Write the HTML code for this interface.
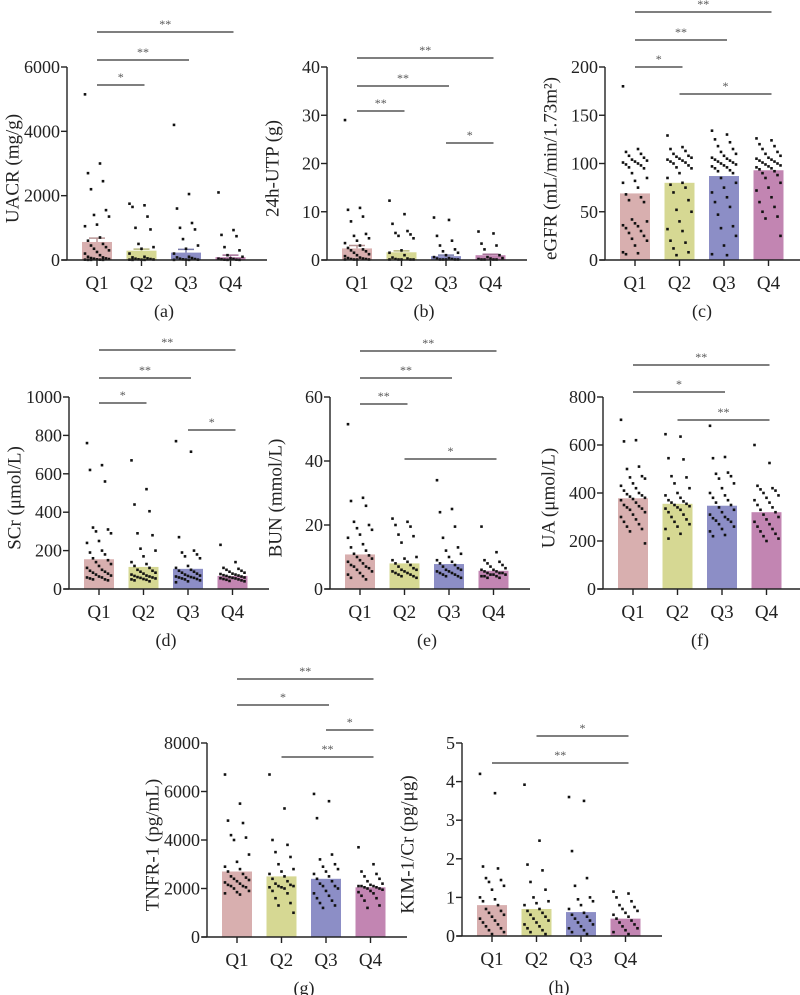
<!DOCTYPE html>
<html><head><meta charset="utf-8"><style>
html,body{margin:0;padding:0;background:#fff;}
svg{display:block;font-family:"Liberation Serif",serif;}
</style></head><body>
<svg id="fig" width="800" height="995" viewBox="0 0 800 995"></svg>
<script>
// ---- data ----
const categories = ["Q1","Q2","Q3","Q4"];
const panelLetters = ["a","b","c","d","e","f","g","h"];
const yTitles = ["UACR (mg/g)","24h-UTP (g)","eGFR (mL/min/1.73m²)","SCr (μmol/L)","BUN (mmol/L)","UA (μmol/L)","TNFR-1 (pg/mL)","KIM-1/Cr (pg/μg)"];
const yMax = [6000,40,200,1000,60,800,8000,5];
const yTicks = [[0,2000,4000,6000],[0,10,20,30,40],[0,50,100,150,200],[0,200,400,600,800,1000],[0,20,40,60],[0,200,400,600,800],[0,2000,4000,6000,8000],[0,1,2,3,4,5]];
const means = [[560,290,230,90],[2.4,1.6,0.8,1.0],[69,80,87,93],[155,115,105,68],[10.8,8,7.8,5.7],[378,355,347,320],[2700,2500,2400,2050],[0.8,0.7,0.62,0.45]];
const sems = [[120,50,100,60],[0.6,0.3,0.2,0.2],[0,0,0,0],[0,0,0,0],[0,0,0,0],[0,0,0,0],[0,0,0,0],[0,0,0,0]];
const pointsA = [[5150,3000,2700,2450,2200,1550,1400,1350,1100,1050,700,600,500,450,400,350,300,250,200,150,100,80,60,50,40,30,20,10,10,5,5,5],[1750,1700,1650,1350,1000,950,500,400,350,200,100,80,50,40,30,20,15,10,10,5,5],[4200,2050,1600,1150,1000,950,650,450,350,200,100,80,60,40,30,20,10,10,5,5],[2100,930,780,740,400,300,150,100,50,40,30,20,10,10,5,5]];
const pointsB = [[29,10.8,10.4,9,8,5.4,5,4.5,4,3.5,3,2.5,2.2,2,1.8,1.5,1.2,1,0.8,0.5,0.4,0.3,0.2,0.2,0.1,0.1,0.1,0.1],[12.3,9.5,7.5,6,5.6,5.3,5,4.5,2,1.5,1,0.5,0.3,0.2,0.1,0.1,0.1,0.1,0.1],[8.8,8.3,5,4,3,2.2,1.8,1.5,1,0.6,0.4,0.3,0.2,0.1,0.1,0.1,0.1,0.1],[5.9,5.5,3.4,3,2.2,1,0.6,0.4,0.3,0.2,0.1,0.1,0.1,0.1]];
const pointsC = [[180,115,112,110,108,106,104,103,102,101,100,99,98,96,95,90,85,82,80,75,68,65,62,60,42,40,38,36,35,33,30,28,25,22,20,15,8,7,6],[129,117,115,113,110,108,107,106,105,104,103,102,101,100,98,96,95,90,85,80,78,75,70,62,52,50,40,32,30,20,18,12,8,5],[134,130,125,122,118,115,112,110,108,106,105,104,103,102,101,100,99,98,97,96,95,93,92,90,85,80,75,70,65,60,55,47,35,33,25,15,6,5],[126,124,120,118,115,112,110,108,106,105,104,103,102,101,100,99,98,97,96,95,94,92,90,88,85,80,75,72,65,60,55,50,45,43,25]];
const pointsD = [[760,645,620,560,320,310,300,290,250,240,200,190,180,160,150,140,130,120,110,100,95,90,85,80,75,70,65,60,60,55,50,50,45],[670,520,440,405,290,280,210,200,170,140,130,120,110,100,95,90,85,80,75,70,68,65,62,60,58,55,52,50,48,45,40],[770,715,270,200,190,180,170,160,120,110,100,95,90,85,80,75,70,68,65,62,60,58,55,52,50,45,40,35],[230,140,110,105,100,95,90,85,80,78,75,72,70,68,65,62,60,58,56,55,52,50,48,45,42,40]];
const pointsE = [[51.5,28.5,27.5,26,21,20,19,18.5,17,16,14,13,12,11,10.5,10,9.5,9,8.5,8,7.5,7,7,6.5,6,5.5,5,4.5,4,3.5,3],[22,21,20,19.5,17,16.5,14.5,10,9.5,9,8.5,8,7.5,7,6.5,6,6,5.5,5.5,5,5,4.5,4.5,4,4,3.5],[34,25,24,19.5,16,13,12,11,10,9,8.5,8,7.5,7,6.5,6,6,5.5,5.5,5,5,4.5,4.5,4,4,3.5],[19.5,11.5,9,8.5,8,7.5,7,6.5,6,6,5.5,5.5,5,5,5,4.5,4.5,4.5,4,4,4,3.5,3.5]];
const pointsF = [[705,620,615,510,500,470,465,460,440,430,420,410,400,395,390,385,380,375,370,360,350,345,340,335,330,320,310,300,290,280,270,260,250,240,190],[645,635,545,540,470,465,440,420,400,390,380,370,365,360,355,350,345,340,335,330,320,310,300,290,280,270,260,250,230,210],[680,550,545,485,480,470,460,440,420,400,390,380,370,360,350,340,330,320,310,300,295,290,285,280,270,260,250,240,225,220],[600,525,430,420,415,410,400,390,380,370,360,350,340,330,320,310,300,290,280,270,260,250,240,230,220,210,200]];
const pointsG = [[6700,5500,4800,4700,4200,4100,4000,3400,3100,2900,2800,2700,2600,2500,2450,2400,2350,2300,2250,2200,2150,2100,2100,2050,2000,1900,1850,1800,1750],[6700,5300,4000,3800,3500,3300,3000,2800,2700,2600,2500,2400,2300,2200,2150,2100,2100,2050,2050,2000,1900,1800,1600,1400,1300,1000],[5900,5600,4900,3400,3200,3000,2900,2800,2700,2600,2500,2400,2300,2200,2100,2100,2000,1900,1800,1700,1600,1500,1400,1300,1200],[3700,3000,2700,2600,2500,2400,2300,2200,2150,2100,2100,2100,2050,2050,2000,2000,1950,1900,1850,1800,1700,1600,1500,1300,1200]];
const pointsH = [[4.2,3.7,1.8,1.75,1.5,1.45,1.4,1.3,1.2,1.0,0.95,0.9,0.8,0.7,0.65,0.6,0.55,0.5,0.45,0.4,0.35,0.3,0.25,0.2,0.15,0.1,0.05],[3.92,2.47,1.85,1.7,1.4,1.2,1.0,0.9,0.85,0.8,0.7,0.65,0.6,0.55,0.5,0.45,0.4,0.35,0.3,0.25,0.2,0.15,0.1,0.05],[3.6,3.5,2.2,1.5,1.3,1.0,0.95,0.9,0.8,0.7,0.6,0.55,0.5,0.45,0.4,0.35,0.3,0.25,0.2,0.15,0.1,0.05],[1.15,1.1,1.0,0.9,0.8,0.75,0.7,0.65,0.6,0.55,0.5,0.45,0.4,0.35,0.3,0.25,0.2,0.15,0.1,0.05]];
const allPoints = [pointsA,pointsB,pointsC,pointsD,pointsE,pointsF,pointsG,pointsH];
// significance: [from group, to group, label]
const sigPairs = [
 [[0,3,"**"],[0,2,"**"],[0,1,"*"]],
 [[0,3,"**"],[0,2,"**"],[0,1,"**"],[2,3,"*"]],
 [[0,3,"**"],[0,2,"**"],[0,1,"*"],[1,3,"*"]],
 [[0,3,"**"],[0,2,"**"],[0,1,"*"],[2,3,"*"]],
 [[0,3,"**"],[0,2,"**"],[0,1,"**"],[1,3,"*"]],
 [[0,3,"**"],[0,2,"*"],[1,3,"**"]],
 [[0,3,"**"],[0,2,"*"],[2,3,"*"],[1,3,"**"]],
 [[1,3,"*"],[0,3,"**"]]
];
// ---- layout (not data) ----
const layout = [
 {ax:67,top:67,bot:260,sig:[32,60,85]},
 {ax:327,top:67,bot:260,sig:[58,86,111,143]},
 {ax:605,top:67,bot:260,sig:[12,40,67,94]},
 {ax:69,top:397,bot:589,sig:[350,378,403,430]},
 {ax:330,top:397,bot:589,sig:[351,378,404,459]},
 {ax:603,top:397,bot:589,sig:[365,392,420]},
 {ax:207,top:743,bot:937,sig:[679,705,730,757]},
 {ax:462,top:743,bot:936,sig:[736,763]}
];
const colors = ["#d8afaf","#d6d893","#8c8ec6","#c285b2"];
const NS="http://www.w3.org/2000/svg";
const svg=document.getElementById("fig");
function mk(tag,attrs,parent,text){const e=document.createElementNS(NS,tag);for(const k in attrs)e.setAttribute(k,attrs[k]);if(text!==undefined)e.textContent=text;(parent||svg).appendChild(e);return e;}

layout.forEach((L,p)=>{
  const g=mk("g",{});
  
  
  const y=v=>L.bot-(v/yMax[p])*(L.bot-L.top);
  const x=i=>L.ax+30+44.5*i;
  categories.forEach((c,i)=>{
    const b=mk("rect",{x:x(i)-15,y:y(means[p][i]),width:30,height:L.bot-y(means[p][i]),fill:colors[i]},g);
    
    
    if(sems[p][i]>0){
      const yt=y(means[p][i]+sems[p][i]);
      const e=mk("path",{d:`M${x(i)} ${y(means[p][i])}V${yt}M${x(i)-8} ${yt}H${x(i)+8}`,stroke:colors[i],"stroke-width":1.5,fill:"none",filter:"brightness(0.85)"},g);
      
      
    }
  });
  allPoints[p].forEach((arr,i)=>{
    arr.forEach((v,k)=>{
      const off=(((k*5)%9)-4)*3;
      const d=mk("rect",{x:x(i)+off-1.3,y:y(v)-1.3,width:2.6,height:2.6,fill:"#111"},g);
      
      
    });
  });
  const ya=mk("path",{d:`M${L.ax} ${L.top}V${L.bot}`,stroke:"#222","stroke-width":1.4,fill:"none"},g);
  
  
  const xa=mk("path",{d:`M${L.ax-5} ${L.bot}H${L.ax+200}`,stroke:"#222","stroke-width":1.4,fill:"none"},g);
  
  
  yTicks[p].forEach(t=>{
    mk("path",{d:`M${L.ax-6} ${y(t)}H${L.ax}`,stroke:"#222","stroke-width":1.4},g);
    const tl=mk("text",{x:L.ax-7,y:y(t)+6,"text-anchor":"end","font-size":18,fill:"#222"},g,String(t));
    
    
  });
  categories.forEach((c,i)=>{
    mk("path",{d:`M${x(i)} ${L.bot}V${L.bot+6}`,stroke:"#222","stroke-width":1.4},g);
    const xl=mk("text",{x:x(i),y:L.bot+29,"text-anchor":"middle","font-size":19,fill:"#222"},g,c);
    
    
  });
  const cy=(L.top+L.bot)/2+5;
  const yt=mk("text",{x:L.ax-53,y:cy,"text-anchor":"middle","font-size":19,fill:"#222",transform:`rotate(-90 ${L.ax-53} ${cy})`,"dominant-baseline":"middle"},g,yTitles[p]);
  
  
  const cap=mk("text",{x:L.ax+97,y:L.bot+57,"text-anchor":"middle","font-size":18,fill:"#222"},g,"("+panelLetters[p]+")");
  
  
  sigPairs[p].forEach((s,k)=>{
    const ly=L.sig[k];
    const x1=x(s[0]),x2=x(s[1])+3;
    const ln=mk("path",{d:`M${x1} ${ly}H${x2}`,stroke:"#333","stroke-width":1.3},g);
    
    
    const st=mk("text",{x:(x1+x2)/2,y:ly-4,"text-anchor":"middle","font-size":12,fill:"#555"},g,s[2]);
    
    
  });
});
</script>
</body></html>
